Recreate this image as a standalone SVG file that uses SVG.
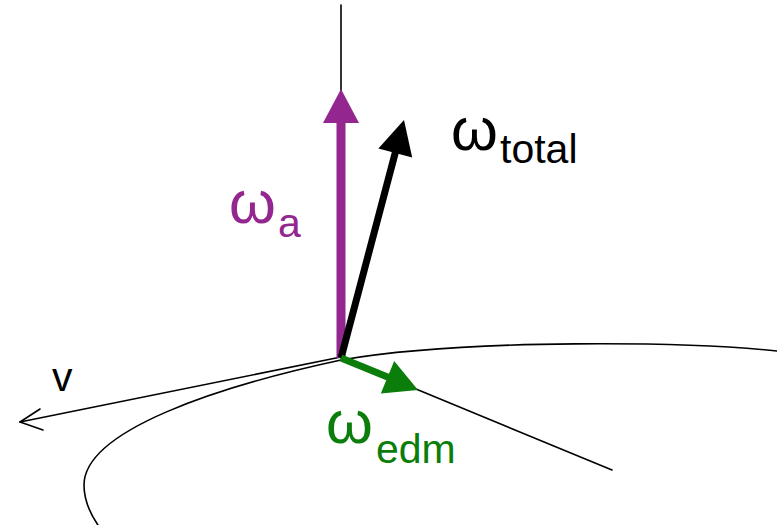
<svg xmlns="http://www.w3.org/2000/svg" width="777" height="525" viewBox="0 0 777 525">
<style>
.thin{fill:none;stroke:#000;stroke-width:1.6;stroke-linecap:round;stroke-linejoin:round}
.lbl{font-family:"Liberation Sans",Arial,sans-serif}
.big{font-size:60px}
.sub{font-size:41px}
</style>
<rect width="777" height="525" fill="#fff"/>
<g id="connectors">
<path id="axis" class="thin" d="M341,5 L341,110"/>
<path id="orbit" class="thin" d="M777,351 C690,342 470,338 341,360 C220,386 84,430 84,485 C84,503 92,517 100,528"/>
<path id="tangent" class="thin" d="M341,358 L612,470"/>
<g id="v-arrow">
<path class="thin" d="M341,357 L20,422"/>
<path class="thin" d="M40,409 L20,422 L43,430"/>
</g>
</g>
<g id="omega-a-arrow">
<line x1="341" y1="358" x2="341" y2="120" stroke="#93278F" stroke-width="9"/>
<polygon points="341,89 323,123 359,123" fill="#93278F"/>
</g>
<g id="omega-total-arrow">
<line x1="341" y1="358" x2="396" y2="150" stroke="#000" stroke-width="7"/>
<polygon points="404,120 412.2,157.4 378.4,148.4" fill="#000"/>
</g>
<g id="omega-edm-arrow">
<line x1="341" y1="358" x2="390" y2="378" stroke="#0A7D0A" stroke-width="7"/>
<polygon points="418,390 394.2,361.1 380.8,393.5" fill="#0A7D0A"/>
</g>
<g id="label-total" class="lbl" fill="#000">
<text class="big" x="451" y="150">ω</text>
<text class="sub" x="500" y="163">total</text>
</g>
<g id="label-a" class="lbl" fill="#93278F">
<text class="big" x="229" y="223">ω</text>
<text class="sub" x="278" y="237">a</text>
</g>
<g id="label-edm" class="lbl" fill="#0A7D0A">
<text class="big" x="326" y="443">ω</text>
<text class="sub" x="376" y="463">edm</text>
</g>
<g id="label-v" class="lbl">
<text class="sub" x="52" y="391">v</text>
</g>
</svg>
